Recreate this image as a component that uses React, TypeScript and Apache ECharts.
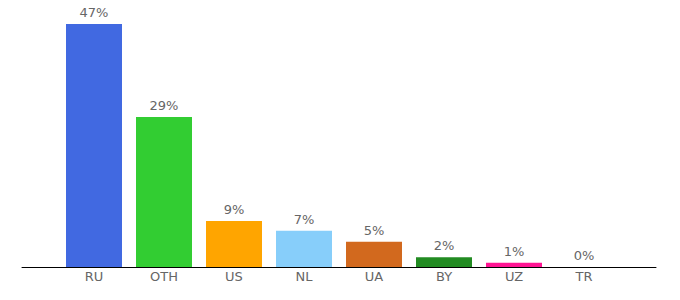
import React, { useEffect, useRef } from "react";
import * as echarts from "echarts";

const categories = ["RU", "OTH", "US", "NL", "UA", "BY", "UZ", "TR"];
const values = [47, 29, 8.9, 7.0, 4.9, 1.9, 0.8, 0];
const labels = ["47%", "29%", "9%", "7%", "5%", "2%", "1%", "0%"];
const colors = ["#4169E1", "#32CD32", "#FFA500", "#87CEFA", "#D2691E", "#228B22", "#FF1493", "#DC143C"];

export default function App() {
  const ref = useRef<HTMLDivElement>(null);
  useEffect(() => {
    if (!ref.current) return;
    document.body.style.margin = "0";
    const chart = echarts.init(ref.current, null, { renderer: "svg" });
    const font = "'DejaVu Sans', Verdana, sans-serif";
    chart.setOption({
      animation: false,
      textStyle: { fontFamily: font },
      grid: [
        { left: 59, right: 61, top: 24, bottom: 33 },
        { left: 22, right: 24, top: 24, bottom: 33 },
      ],
      xAxis: [
        {
          type: "category",
          gridIndex: 0,
          data: categories,
          axisLine: { show: false },
          axisTick: { show: false },
          axisLabel: { color: "#666", fontSize: 13, margin: 3, fontFamily: font },
        },
        {
          type: "value",
          gridIndex: 1,
          min: 0,
          max: 1,
          axisLine: { show: true, onZero: false, lineStyle: { color: "#000", width: 1 } },
          axisTick: { show: false },
          axisLabel: { show: false },
          splitLine: { show: false },
        },
      ],
      yAxis: [
        { type: "value", gridIndex: 0, min: 0, max: 47, show: false },
        { type: "value", gridIndex: 1, min: 0, max: 1, show: false },
      ],
      series: [
        {
          type: "bar",
          xAxisIndex: 0,
          yAxisIndex: 0,
          barWidth: 56,
          data: values.map((v, i) => ({ value: v, itemStyle: { color: colors[i] } })),
          label: {
            show: true,
            position: "top",
            distance: 5,
            color: "#666",
            fontSize: 13,
            fontFamily: font,
            formatter: (p: any) => labels[p.dataIndex],
          },
        },
      ],
    });
    return () => chart.dispose();
  }, []);
  return <div ref={ref} style={{ width: 680, height: 300 }} />;
}
